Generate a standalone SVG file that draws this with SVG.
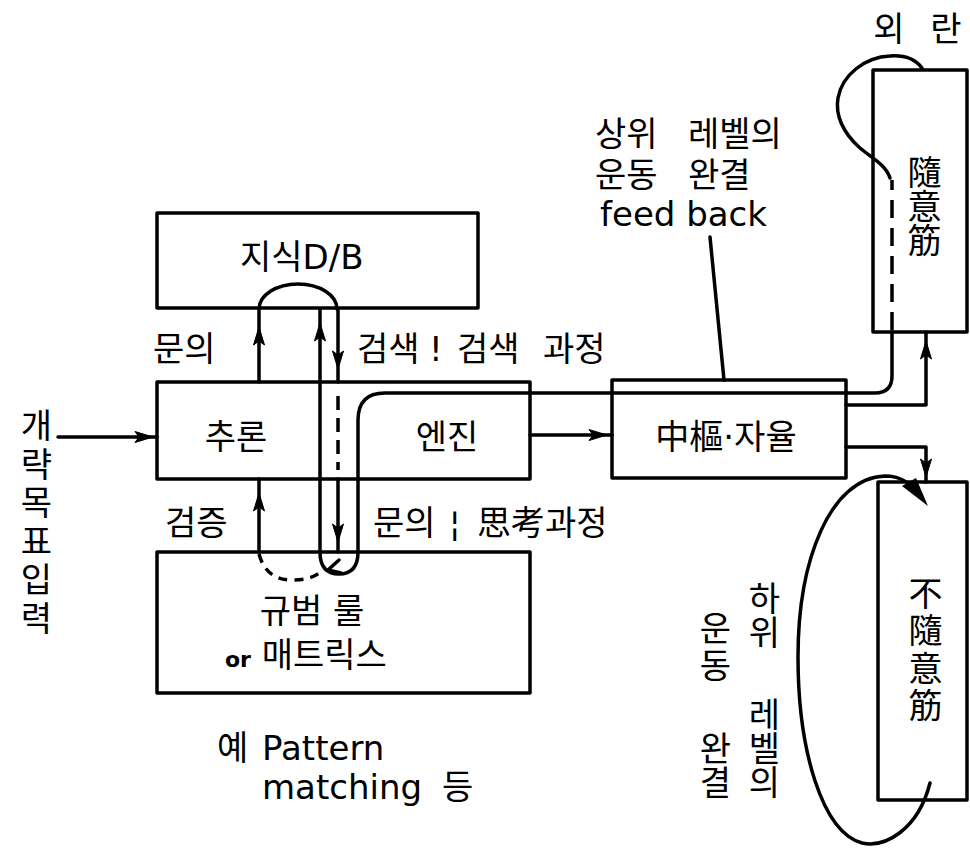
<svg xmlns="http://www.w3.org/2000/svg" width="970" height="851" viewBox="0 0 970 851">
<style>
.b{fill:none;stroke:#000;stroke-width:3.5;stroke-linejoin:round}
.l{fill:none;stroke:#000;stroke-width:3.5;stroke-linecap:round;stroke-linejoin:round}
.d{fill:none;stroke:#000;stroke-width:3.5}
.t{font-family:"DejaVu Sans","Noto Sans CJK KR",sans-serif;font-size:34px;fill:#000}
.m{text-anchor:middle}
.v{writing-mode:vertical-rl;text-orientation:upright}
</style>
<defs>
<path id="ah" d="M7 0 L-11 -5.5 L-7 0 L-11 5.5 Z" fill="#000" stroke="#000" stroke-width="1"/>
</defs>
<rect width="970" height="851" fill="#fff"/>

<g id="connectors">
  <path class="l" d="M58 437 L157 437"/>
  <use href="#ah" transform="translate(146,437)"/>
  <path class="l" d="M259 309 A39 25 0 0 1 337 309"/>
  <path class="l" d="M259 309 L259 382"/>
  <use href="#ah" transform="translate(259,334) rotate(-90)"/>
  <path class="l" d="M320 309 L320 552 Q320 574 339 574 Q358 574 358 552 L358 420 Q358 393 385 393 L875 393 Q892 393 892 376 L892 332"/>
  <use href="#ah" transform="translate(320,330) rotate(-90)"/>
  <path class="l" d="M339 560 L328 570 L341 573"/>
  <path class="l" d="M338 309 L338 382"/>
  <use href="#ah" transform="translate(338,362) rotate(90)"/>
  <path class="d" stroke-dasharray="14 8" d="M338 396 L338 470"/>
  <path class="l" d="M338 479 L338 552"/>
  <use href="#ah" transform="translate(338,535) rotate(90)"/>
  <path class="l" d="M259 479 L259 552"/>
  <use href="#ah" transform="translate(259,500) rotate(-90)"/>
  <path class="d" stroke-dasharray="9 7" d="M259 554 Q266 580 292 580 Q312 580 320 572"/>
  <path class="l" d="M530 435 L612 435"/>
  <use href="#ah" transform="translate(600,435)"/>
  <path class="l" d="M846 405 L926 405 L926 332"/>
  <use href="#ah" transform="translate(926,348) rotate(-90)"/>
  <path class="l" d="M846 447 L926 447 L926 482"/>
  <use href="#ah" transform="translate(926,470) rotate(90)"/>
  <path class="d" stroke-dasharray="18 10" d="M892 330 L892 180"/>
  <path class="l" d="M890 178 C886 165 872 158 860 148 C843 133 835 115 838 98 C842 75 865 57 890 56 C905 55 916 60 922 68"/>
  <path class="l" d="M710 237 Q716 300 724 380"/>
  <path class="l" d="M930 783 C918 830 885 848 862 843 C822 832 798 750 798 657 C798 560 830 478 885 476 C902 476 912 484 920 496"/>
  <polygon points="928,506 902,486 916,478" fill="#000"/>
</g>

<g id="db">
  <rect class="b" x="157" y="213" width="321" height="95"/>
  <text class="t" x="240" y="269">지식D/B</text>
</g>
<g id="reasoning-engine">
  <rect class="b" x="157" y="382" width="373" height="97"/>
  <text class="t m" x="236" y="449">추론</text>
  <text class="t m" x="447" y="449">엔진</text>
</g>
<g id="rules">
  <rect class="b" x="157" y="552" width="373" height="141"/>
  <text class="t m" x="312" y="623">규범 룰</text>
  <text class="t" x="225" y="667"><tspan font-size="22" font-weight="bold">or</tspan> 매트릭스</text>
</g>
<g id="central">
  <rect class="b" x="612" y="380" width="234" height="98"/>
  <text class="t m" x="726" y="449">中樞·자율</text>
</g>
<g id="voluntary">
  <rect class="b" x="873" y="70" width="94" height="262"/>
  <text class="t v" font-size="31" letter-spacing="0" x="922" y="155">隨意筋</text>
</g>
<g id="involuntary">
  <rect class="b" x="878" y="482" width="89" height="318"/>
  <text class="t v" font-size="32" letter-spacing="3.4" x="923" y="576">不隨意筋</text>
</g>

<g id="labels">
  <text class="t" x="153" y="361">문의</text>
  <text class="t" y="361"><tspan x="357">검색</tspan><tspan x="429">!</tspan><tspan x="457">검색</tspan><tspan x="543">과정</tspan></text>
  <text class="t" x="165" y="535">검증</text>
  <text class="t" y="535"><tspan x="373">문의</tspan><tspan x="449">¦</tspan><tspan x="477">思考과정</tspan></text>
  <text class="t" y="146"><tspan x="595">상위</tspan><tspan x="688">레벨의</tspan></text>
  <text class="t" y="187"><tspan x="595">운동</tspan><tspan x="688">완결</tspan></text>
  <text class="t" x="600" y="226">feed back</text>
  <text class="t m" y="41"><tspan x="889">외</tspan><tspan x="946">란</tspan></text>
  <text class="t" font-size="32" y="760"><tspan x="217">예</tspan><tspan x="262">Pattern</tspan></text>
  <text class="t" font-size="32" y="799"><tspan x="262">matching</tspan><tspan x="442">등</tspan></text>
  <text class="t v" font-size="28" letter-spacing="4.6" x="34" y="408">개략목표입력</text>
  <text class="t v" font-size="32" letter-spacing="0" x="762" y="581">하위</text>
  <text class="t v" font-size="32" letter-spacing="0" x="762" y="697">레벨의</text>
  <text class="t v" font-size="32" letter-spacing="3" x="713" y="611">운동</text>
  <text class="t v" font-size="32" letter-spacing="0" x="713" y="731">완결</text>
</g>
</svg>
